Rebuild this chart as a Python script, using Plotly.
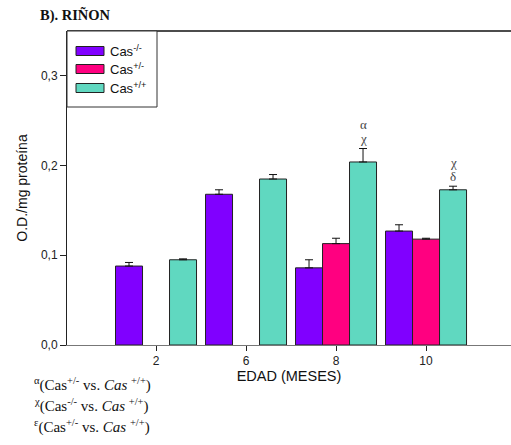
import plotly.graph_objects as go

# Kidney O.D. per mg protein by age and genotype
ages = ["2", "6", "8", "10"]
cas_ko = [0.088, 0.168, 0.086, 0.127]
cas_ko_err = [0.004, 0.005, 0.009, 0.007]
cas_het = [None, None, 0.113, 0.118]
cas_het_err = [0, 0, 0.006, 0.001]
cas_wt = [0.095, 0.185, 0.204, 0.173]
cas_wt_err = [0.001, 0.005, 0.015, 0.004]

series = [
    ("Cas<sup>-/-</sup>", cas_ko, cas_ko_err, "#8000FF"),
    ("Cas<sup>+/-</sup>", cas_het, cas_het_err, "#FF0080"),
    ("Cas<sup>+/+</sup>", cas_wt, cas_wt_err, "#60D8C0"),
]

y_ticks = [0.0, 0.1, 0.2, 0.3]
y_tick_text = ["0,0", "0,1", "0,2", "0,3"]

# significance marks above the wild-type bars: (age, text lines)
sig_marks = [("8", ["α", "χ"]), ("10", ["χ", "δ"])]

footnotes = [
    "<sup>α</sup>(Cas<sup>+/-</sup> vs. <i>Cas</i> <sup>+/+</sup>)",
    "<sup>χ</sup>(Cas<sup>-/-</sup> vs. <i>Cas</i> <sup>+/+</sup>)",
    "<sup>ε</sup>(Cas<sup>+/-</sup> vs. <i>Cas</i> <sup>+/+</sup>)",
]

W, H = 511, 445
ML, MR, MT, MB = 67, 0, 31, 100
SERIF = "Liberation Serif, Times New Roman"
SANS = "Liberation Sans, Arial"

fig = go.Figure()
for name, vals, errs, color in series:
    fig.add_trace(go.Bar(
        x=ages, y=vals, name=name,
        marker=dict(color=color, line=dict(color="#222222", width=1)),
        error_y=dict(type="data", symmetric=False, array=errs,
                     arrayminus=[0] * len(errs), color="#111111",
                     thickness=1, width=4),
        showlegend=False,
    ))

plot_w = W - ML - MR
plot_h = H - MT - MB

def lx(p):
    return (p - ML) / plot_w

def ly(p):
    return 1 - (p - MT) / plot_h

shapes = []
annotations = []

# top frame line
shapes.append(dict(type="line", xref="paper", yref="paper", x0=0, x1=1.2,
                   y0=1, y1=1, line=dict(color="#111111", width=1.5)))

# legend box with rectangular swatches
shapes.append(dict(type="rect", xref="paper", yref="paper",
                   x0=lx(67), x1=lx(157), y0=ly(107), y1=ly(31),
                   line=dict(color="#333333", width=1), fillcolor="white"))
rows = [51, 69, 88]
for (name, _, _, color), cy in zip(series, rows):
    shapes.append(dict(type="rect", xref="paper", yref="paper",
                       x0=lx(76), x1=lx(104), y0=ly(cy + 4.5), y1=ly(cy - 4.5),
                       line=dict(color="#222222", width=1), fillcolor=color))
    annotations.append(dict(text=name, xref="paper", yref="paper",
                            x=lx(108), y=ly(cy), xanchor="left", yanchor="middle",
                            showarrow=False,
                            font=dict(family=SANS, size=13, color="#111111")))

# significance labels above the wild-type bars
wt_top = [v + e for v, e in zip(cas_wt, cas_wt_err)]
for age, lines in sig_marks:
    idx = ages.index(age)
    top = wt_top[idx]
    for i, t in enumerate(reversed(lines)):
        annotations.append(dict(text=t, x=idx, y=top, xref="x", yref="y",
                                xshift=27, yshift=10 + 14 * i,
                                xanchor="center", yanchor="middle",
                                showarrow=False,
                                font=dict(family=SERIF, size=13, color="#444444")))

# panel title
annotations.append(dict(text="<b>B). RIÑON</b>", xref="paper", yref="paper",
                        x=lx(38), y=ly(15), xanchor="left", yanchor="middle",
                        showarrow=False,
                        font=dict(family=SERIF, size=14.5, color="#111111")))

# footnotes
for txt, cy in zip(footnotes, [384, 405, 426]):
    annotations.append(dict(text=txt, xref="paper", yref="paper",
                            x=lx(32), y=ly(cy), xanchor="left", yanchor="middle",
                            showarrow=False,
                            font=dict(family=SERIF, size=15, color="#111111")))

fig.update_layout(
    width=W, height=H,
    margin=dict(l=ML, r=MR, t=MT, b=MB, pad=0),
    paper_bgcolor="white", plot_bgcolor="white",
    barmode="group", bargap=0.1, bargroupgap=0,
    font=dict(family=SANS, size=12, color="#222222"),
    shapes=shapes, annotations=annotations,
    xaxis=dict(
        type="category", categoryorder="array", categoryarray=ages,
        range=[-0.989, 3.944],
        showline=True, linecolor="#777777", linewidth=1,
        ticks="outside", ticklen=5, tickcolor="#222222",
        showgrid=False, zeroline=False,
        title=dict(text="EDAD (MESES)", standoff=3,
                   font=dict(family=SANS, size=14.5, color="#111111")),
        tickfont=dict(family=SANS, size=12, color="#222222"),
    ),
    yaxis=dict(
        range=[0, 0.35], tickvals=y_ticks, ticktext=y_tick_text,
        showline=True, linecolor="#222222", linewidth=1,
        ticks="outside", ticklen=6, tickcolor="#222222",
        showgrid=False, zeroline=False,
        title=dict(text="O.D./mg proteína", standoff=10,
                   font=dict(family=SANS, size=14, color="#111111")),
        tickfont=dict(family=SANS, size=12, color="#222222"),
    ),
)

fig.write_html("out.html")
